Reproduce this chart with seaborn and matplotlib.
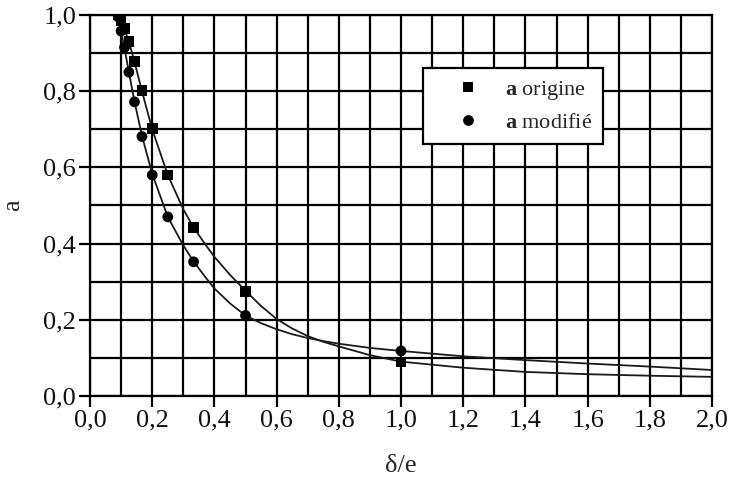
import numpy as np
import pandas as pd
import seaborn as sns
import matplotlib.pyplot as plt
from matplotlib.ticker import MultipleLocator, FuncFormatter

x_pts = [0.091, 0.100, 0.111, 0.125, 0.143, 0.167, 0.200, 0.250, 0.333, 0.500, 1.000]
a_origine = [1.000, 0.985, 0.965, 0.930, 0.877, 0.802, 0.703, 0.580, 0.442, 0.275, 0.089]
a_modifie = [0.995, 0.958, 0.915, 0.850, 0.772, 0.681, 0.580, 0.470, 0.352, 0.211, 0.118]

# Fitted curves
x_fit_orig = [0.091, 0.100, 0.111, 0.125, 0.143, 0.167, 0.200, 0.250, 0.300, 0.333, 0.367,
              0.400, 0.450, 0.500, 0.550, 0.600, 0.650, 0.700, 0.750, 0.800, 0.900, 1.000,
              1.200, 1.400, 1.600, 1.800, 2.000]
a_fit_orig = [1.000, 0.985, 0.963, 0.930, 0.877, 0.800, 0.700, 0.580, 0.490, 0.442, 0.402,
              0.365, 0.318, 0.276, 0.236, 0.202, 0.177, 0.157, 0.142, 0.130, 0.107, 0.090,
              0.074, 0.063, 0.057, 0.053, 0.050]
x_fit_mod = [0.091, 0.100, 0.111, 0.125, 0.143, 0.167, 0.200, 0.250, 0.300, 0.333, 0.367,
             0.400, 0.450, 0.500, 0.550, 0.600, 0.650, 0.700, 0.750, 0.800, 0.900, 1.000,
             1.200, 1.400, 1.600, 1.800, 2.000]
a_fit_mod = [1.000, 0.957, 0.912, 0.850, 0.773, 0.683, 0.583, 0.470, 0.395, 0.353, 0.316,
             0.282, 0.243, 0.211, 0.191, 0.175, 0.162, 0.152, 0.144, 0.137, 0.126, 0.118,
             0.104, 0.094, 0.085, 0.077, 0.068]

labels = [r"$\mathbf{a}$ origine", r"$\mathbf{a}$ modifié"]

sns.set_style("white")
plt.rcParams['font.family'] = ['Liberation Serif', 'DejaVu Serif']
plt.rcParams['mathtext.fontset'] = 'custom'
plt.rcParams['mathtext.rm'] = 'Liberation Serif'
plt.rcParams['mathtext.bf'] = 'Liberation Serif:bold'

df_fit = pd.concat([
    pd.DataFrame({'x': x_fit_orig, 'a': a_fit_orig, 'serie': labels[0]}),
    pd.DataFrame({'x': x_fit_mod, 'a': a_fit_mod, 'serie': labels[1]}),
])
df_pts = pd.concat([
    pd.DataFrame({'x': x_pts, 'a': a_origine, 'serie': labels[0]}),
    pd.DataFrame({'x': x_pts, 'a': a_modifie, 'serie': labels[1]}),
])

fig, ax = plt.subplots(figsize=(7.33, 4.84), dpi=100)
fig.subplots_adjust(left=0.1228, right=0.9714, top=0.969, bottom=0.182)

sns.lineplot(data=df_fit, x='x', y='a', units='serie', estimator=None, sort=False,
             color='#1a1a1a', lw=1.3, ax=ax, legend=False)
sns.scatterplot(data=df_pts, x='x', y='a', hue='serie', style='serie',
                markers={labels[0]: 's', labels[1]: 'o'},
                palette={labels[0]: 'black', labels[1]: 'black'},
                s=60, edgecolor='black', linewidth=0, ax=ax, zorder=5)

ax.set_xlim(0, 2.0)
ax.set_ylim(0, 1.0)
ax.xaxis.set_major_locator(MultipleLocator(0.2))
ax.xaxis.set_minor_locator(MultipleLocator(0.1))
ax.yaxis.set_major_locator(MultipleLocator(0.2))
ax.yaxis.set_minor_locator(MultipleLocator(0.1))
fmt = FuncFormatter(lambda v, p: f"{v:.1f}".replace('.', ','))
ax.xaxis.set_major_formatter(fmt)
ax.yaxis.set_major_formatter(fmt)
ax.grid(which='both', color='black', lw=1.6)
ax.set_axisbelow(True)
for s in ax.spines.values():
    s.set_color('black')
    s.set_linewidth(1.6)
ax.tick_params(which='major', direction='out', length=8, width=1.6, color='black',
               labelsize=19, labelcolor='#111111', pad=2, bottom=True, left=True)
ax.tick_params(which='minor', length=0)

ax.set_xlabel('δ/e', fontsize=19, labelpad=17)
ax.set_ylabel('a', fontsize=19, labelpad=14)

leg = ax.legend(loc='upper left', bbox_to_anchor=(0.535, 0.861), fontsize=16,
                frameon=True, fancybox=False, edgecolor='black', framealpha=1,
                borderpad=0.5, handlelength=3.1, handletextpad=0.1, labelspacing=0.45,
                borderaxespad=0, markerscale=1.0)
leg.get_frame().set_linewidth(1.6)

fig.savefig('out.png', dpi=100)
